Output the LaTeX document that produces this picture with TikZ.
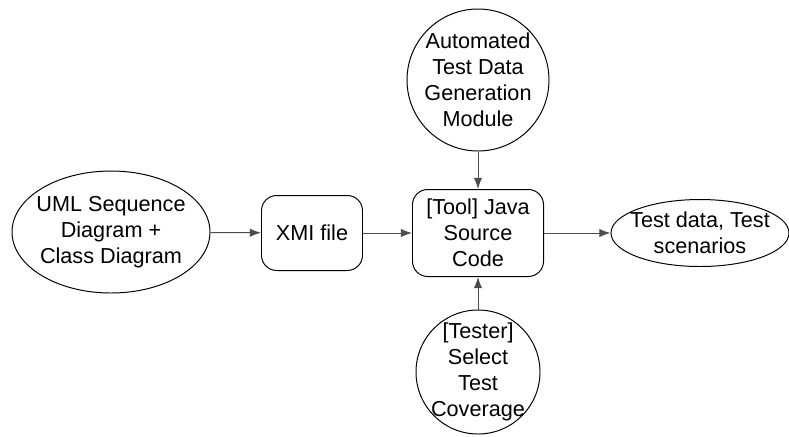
\documentclass[tikz,border=0pt]{standalone}
\usepackage{fontspec}
\setmainfont{Liberation Sans}
\usetikzlibrary{shapes.geometric,arrows.meta}

\begin{document}
\begin{tikzpicture}[line width=.7pt,
  font=\fontsize{15.4}{18.5}\selectfont,
  oval/.style={draw,ellipse,align=center,inner sep=0pt},
  rbox/.style={draw,rounded corners=.38cm,align=center,inner sep=0pt},
  blob/.style={draw,circle,align=center,inner sep=0pt},
  flow/.style={draw=black!70,-{Latex[length=8pt,width=6pt]}}]
\useasboundingbox (0,0) rectangle (19.725,-10.9);

\node[oval,inner xsep=-.13cm,minimum width=4.95cm,minimum height=3.05cm] (uml) at (2.775,-5.8) {UML Sequence\\Diagram +\\Class Diagram};
\node[rbox,minimum width=2.525cm,minimum height=1.875cm] (xmi) at (7.8,-5.825) {XMI file};
\node[rbox,minimum width=3.275cm,minimum height=2.175cm] (tool) at (11.95,-5.825) {[Tool] Java\\Source\\Code};
\node[blob,inner sep=-.12cm,minimum size=3.55cm] (gen) at (11.95,-2.0) {Automated\\Test Data\\Generation\\Module};
\node[blob,inner sep=-.3cm,minimum size=3.1cm] (tester) at (11.95,-9.3) {[Tester]\\Select\\Test\\Coverage};
\node[oval,inner xsep=-.25cm,minimum width=4.45cm,minimum height=1.675cm] (out) at (17.5,-5.825) {Test data, Test\\scenarios};

\draw[flow] (uml) -- (xmi);
\draw[flow] (xmi) -- (tool);
\draw[flow] (tool) -- (out);
\draw[flow] (gen) -- (tool);
\draw[flow] (tester) -- (tool);

\end{tikzpicture}
\end{document}
